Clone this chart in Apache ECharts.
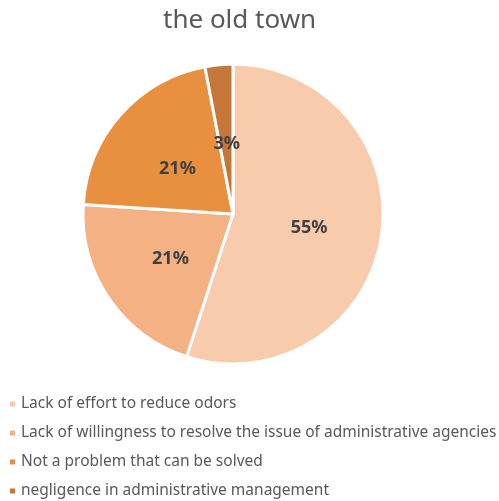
<!DOCTYPE html>
<html><head><meta charset="utf-8">
<script src="https://cdn.jsdelivr.net/npm/echarts@6/dist/echarts.min.js"></script>
<style>html,body{margin:0;padding:0;background:#fff}#c{width:499px;height:501px}</style>
</head><body><div id="c"></div>
<script>
const titleText = "the old town";
const categories = [
  "Lack of effort to reduce odors",
  "Lack of willingness to resolve the issue of administrative agencies",
  "Not a problem that can be solved",
  "negligence in administrative management"
];
const values = [55, 21, 21, 3];
const colors = ["#F8CBAD", "#F4B183", "#E8903F", "#C5773A"];
const labelShift = [[-1, 2], [2, 1], [3, 6], [1, 8]];

const chart = echarts.init(document.getElementById('c'), null, {renderer: 'canvas'});
chart.setOption({
  animation: false,
  title: {text: titleText, left: 158, top: 3,
    textStyle: {fontFamily: 'Noto Sans', fontSize: 26, fontWeight: 'normal', color: '#595959'}},
  legend: {
    orient: 'vertical', left: 8, top: 395, itemGap: 11, padding: 0,
    icon: 'rect', itemWidth: 7, itemHeight: 7,
    textStyle: {fontFamily: 'Noto Sans', fontSize: 15.5, lineHeight: 18, color: '#595959', padding: [0,0,0,0]},
    data: categories
  },
  series: [{
    type: 'pie', center: [233, 214], radius: [0, 150],
    startAngle: 90, clockwise: true,
    itemStyle: {borderColor: '#fff', borderWidth: 3},
    label: {show: true, position: 'inside', formatter: '{d}%',
      fontFamily: 'Noto Sans', fontSize: 18, fontWeight: 'bold', color: '#404040'},
    labelLine: {show: false},
    data: categories.map((c, i) => ({name: c, value: values[i],
      itemStyle: {color: colors[i]}, label: {offset: labelShift[i]}}))
  }]
});
</script></body></html>
